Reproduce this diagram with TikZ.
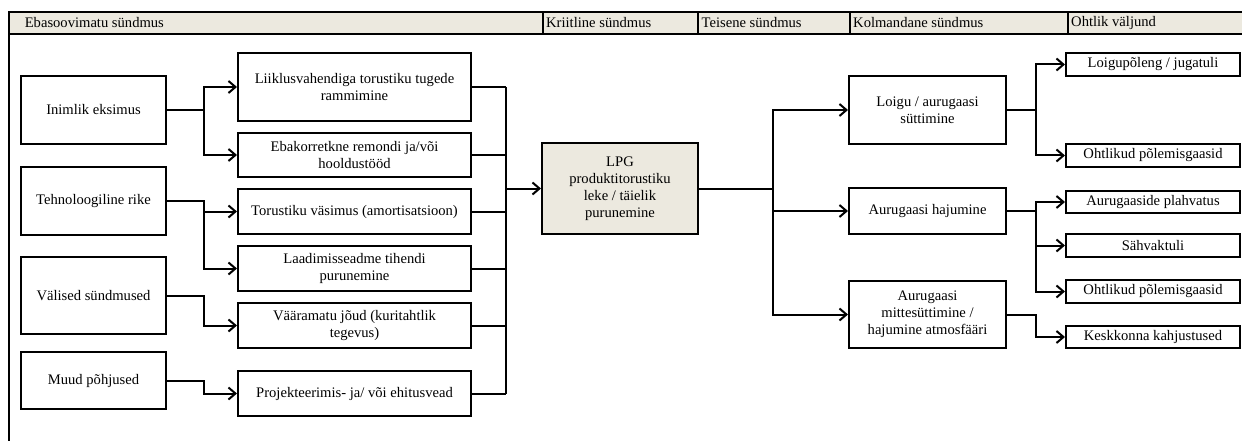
\documentclass[tikz,border=0pt]{standalone}
\usepackage{fontspec}
\setmainfont{Liberation Serif}
\usetikzlibrary{arrows.meta}
\definecolor{hdrfill}{RGB}{236,233,223}
\begin{document}
\begin{tikzpicture}[x=1pt,y=-1pt,
  every node/.style={font=\fontsize{14.6}{17}\selectfont},
  box/.style={draw, line width=2pt, rectangle, align=center, inner sep=0pt, anchor=center},
  conn/.style={line width=2pt},
  arr/.style={conn, -{Straight Barb[length=7pt,width=12pt,line width=2pt]}},
  hdr/.style={anchor=west, inner sep=0pt},
]
\useasboundingbox (0,0) rectangle (1242,441);

% header band with column titles
\fill[hdrfill] (8.7,12.3) rectangle (1250,33.7);
\draw[line width=2.2pt] (1250,12.3) -- (8.7,12.3) -- (8.7,450);
\draw[line width=2.2pt] (8.7,33.7) -- (1250,33.7);
\foreach \x in {543,698,850,1068} \draw[line width=2.4pt] (\x,12.3) -- (\x,33.7);
\node[hdr] (h1) at (24.6,23) {Ebasoovimatu sündmus};
\node[hdr] (h2) at (546,23) {Kriitline sündmus};
\node[hdr] (h3) at (701.5,23) {Teisene sündmus};
\node[hdr] (h4) at (853,23) {Kolmandane sündmus};
\node[hdr] (h5) at (1071,23) {Ohtlik väljund};

% root causes
\node[box, minimum width=145pt, minimum height=68pt] (inim) at (93.5,110) {Inimlik eksimus};
\node[box, minimum width=145pt, minimum height=68pt] (tehno) at (93.5,201) {Tehnoloogiline rike};
\node[box, minimum width=145pt, minimum height=77pt] (valis) at (93.5,295.5) {Välised sündmused};
\node[box, minimum width=145pt, minimum height=57pt] (muud) at (93.5,380.5) {Muud põhjused};

% initiating events
\node[box, minimum width=233pt, minimum height=68pt] (liik) at (354.5,87) {Liiklusvahendiga torustiku tugede\\rammimine};
\node[box, minimum width=233pt, minimum height=44pt] (ebak) at (354.5,155) {Ebakorretkne remondi ja/või\\hooldustööd};
\node[box, minimum width=233pt, minimum height=45pt] (toru) at (354.5,211.5) {Torustiku väsimus (amortisatsioon)};
\node[box, minimum width=233pt, minimum height=45pt] (laad) at (354.5,268.5) {Laadimisseadme tihendi\\purunemine};
\node[box, minimum width=233pt, minimum height=45pt] (vaar) at (354.5,325.5) {Vääramatu jõud (kuritahtlik\\tegevus)};
\node[box, minimum width=233pt, minimum height=45pt] (proj) at (354.5,393.5) {Projekteerimis- ja/ või ehitusvead};

% critical event
\node[box, fill=hdrfill, minimum width=156pt, minimum height=91pt] (lpg) at (620,188.5) {LPG\\produktitorustiku\\leke / täielik\\purunemine};

% secondary events
\node[box, minimum width=157pt, minimum height=68pt] (loigu) at (927.5,110) {Loigu / aurugaasi\\süttimine};
\node[box, minimum width=157pt, minimum height=46pt] (haj) at (927.5,211) {Aurugaasi hajumine};
\node[box, minimum width=157pt, minimum height=67pt] (mitte) at (927.5,314.5) {Aurugaasi\\mittesüttimine /\\hajumine atmosfääri};

% hazardous outcomes
\node[box, minimum width=174pt, minimum height=23pt] (lp) at (1153,64.5) {Loigupõleng / jugatuli};
\node[box, minimum width=174pt, minimum height=23pt] (ohtl1) at (1153,155.5) {Ohtlikud põlemisgaasid};
\node[box, minimum width=174pt, minimum height=22pt] (plahv) at (1153,202) {Aurugaaside plahvatus};
\node[box, minimum width=174pt, minimum height=23pt] (sahv) at (1153,245.5) {Sähvaktuli};
\node[box, minimum width=174pt, minimum height=23pt] (ohtl2) at (1153,291.5) {Ohtlikud põlemisgaasid};
\node[box, minimum width=174pt, minimum height=22pt] (kesk) at (1153,337) {Keskkonna kahjustused};

% causes to initiating events
\draw[arr] (inim.east) -- ++(37,0) |- (liik.west);
\draw[arr] (inim.east) -- ++(37,0) |- (ebak.west);
\draw[arr] (tehno.east) -- ++(37,0) |- (toru.west);
\draw[arr] (tehno.east) -- ++(37,0) |- (laad.west);
\draw[arr] (valis.east) -- ++(37,0) |- (vaar.west);
\draw[arr] (muud.east) -- ++(37,0) |- (proj.west);

% collector bus into the critical event
\coordinate (bus) at (506,188.5);
\foreach \n in {liik,ebak,toru,laad,vaar,proj} \draw[conn] (\n.east) -- (\n.east -| bus);
\draw[conn] (liik.east -| bus) -- (proj.east -| bus);
\draw[arr] (bus) -- (lpg.west);

% critical event to secondary events
\coordinate (rb) at (773,188.5);
\draw[conn] (lpg.east) -- (rb);
\draw[arr] (rb) |- (loigu.west);
\draw[arr] (rb) |- (haj.west);
\draw[arr] (rb) |- (mitte.west);

% secondary events to outcomes
\draw[arr] (loigu.east) -- ++(29,0) |- (lp.west);
\draw[arr] (loigu.east) -- ++(29,0) |- (ohtl1.west);
\draw[arr] (haj.east) -- ++(29,0) |- (plahv.west);
\draw[arr] (haj.east) -- ++(29,0) |- (sahv.west);
\draw[arr] (haj.east) -- ++(29,0) |- (ohtl2.west);
\draw[arr] (mitte.east) -- ++(29,0) |- (kesk.west);
\end{tikzpicture}
\end{document}
